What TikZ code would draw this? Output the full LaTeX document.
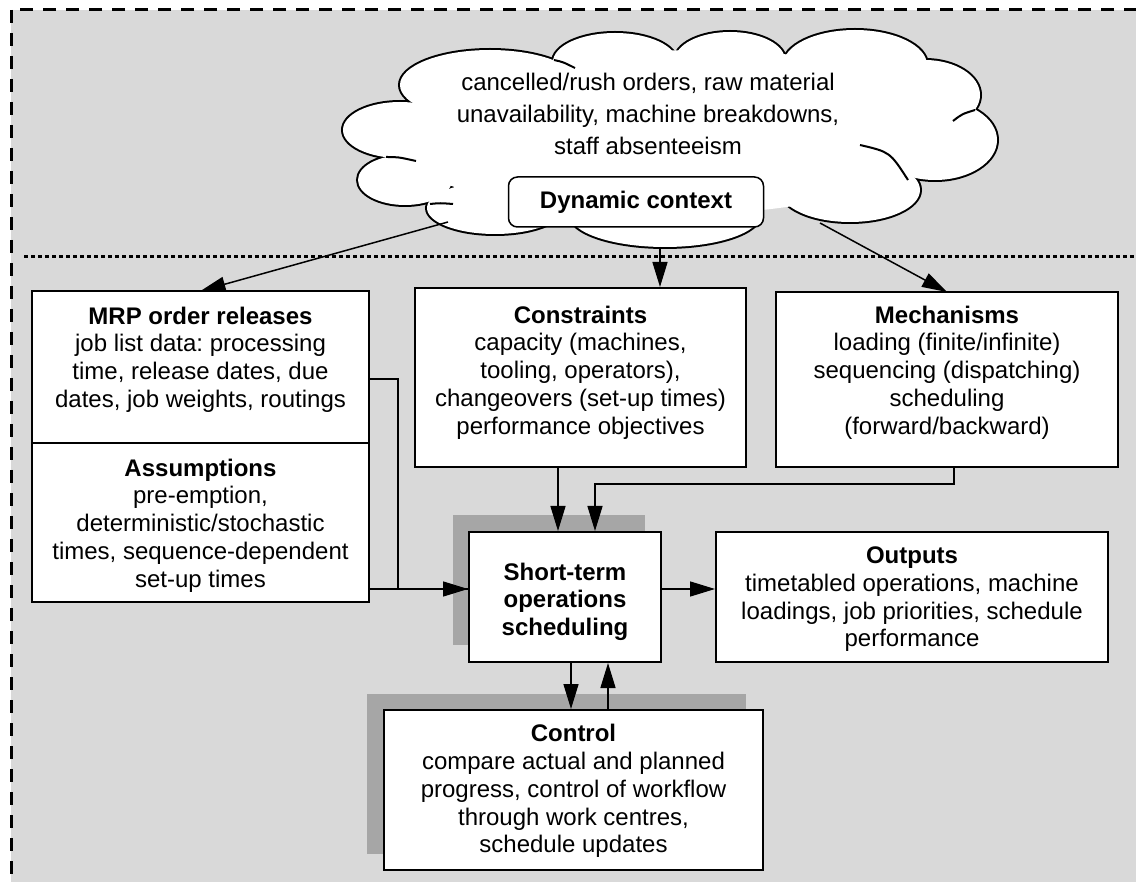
\documentclass[tikz,border=0pt]{standalone}
\usepackage{fontspec}
\setmainfont{Liberation Sans}
\usetikzlibrary{arrows.meta,shadows,calc}
\definecolor{panel}{HTML}{D9D9D9}
\definecolor{shade}{HTML}{A6A6A6}

\begin{document}
\frenchspacing
\begin{tikzpicture}[x=1pt,y=-1pt,
  box/.style={draw, fill=white, line width=2pt, inner sep=0pt},
  txt/.style={anchor=north, inner sep=0pt, align=center, font=\fontsize{24}{27.7}\selectfont},
  arr/.style={line width=1.5pt, -{Triangle[length=25pt,width=15pt]}},
  lin/.style={line width=1.5pt},
  crease/.style={line width=2pt},
  shd/.style={drop shadow={shadow xshift=-16pt, shadow yshift=17pt, fill=shade, opacity=1}}
]
\useasboundingbox (0,0) rectangle (1136,882);
% grey panel with dashed frame
\begin{scope}
  \clip (0,0) rectangle (1136,882);
  \draw[fill=panel, line width=3pt, dash pattern=on 13pt off 10pt] (11,10) rectangle (1150,883);
\end{scope}
% separator between context and scheduling system
\draw[line width=3pt, dash pattern=on 3.5pt off 3.5pt] (24,257) -- (1136,257);

% cloud: union of puffs, outline first, then white fill over the inner half of the strokes
\def\puffs{400/130/57/28, 405/180/47/25, 495/208/68/26, 665/215/95/32,
  850/190/70/32, 935/140/62/40, 925/95/55/35, 855/65/72/35,
  730/60/55/28, 615/62/62/29, 490/85/90/35}
\foreach \px/\py/\rx/\ry in \puffs
  \draw[line width=4pt] (\px,\py) ellipse [x radius=\rx pt, y radius=\ry pt];
\foreach \px/\py/\rx/\ry in \puffs
  \fill[white] (\px,\py) ellipse [x radius=\rx pt, y radius=\ry pt];
\fill[white] (665,140) ellipse [x radius=270pt, y radius=75pt];
\fill[white] (700,110) ellipse [x radius=230pt, y radius=60pt];
% creases between puffs
\draw[crease] (386,157) .. controls (398,157) .. (416,161);
\draw[crease] (430,204) .. controls (440,203) .. (453,204);
\draw[crease] (554,60) .. controls (563,62) .. (575,68);
\draw[crease] (953,121) .. controls (962,114) .. (975,110);
\draw[crease] (860,145) .. controls (890,152) .. (908,180);

\node[txt, font=\fontsize{24}{32}\selectfont] (cltxt) at (648,72.7)
  {cancelled/rush orders, raw material\\ unavailability, machine breakdowns,\\ staff absenteeism};
\node[draw, fill=white, line width=1.5pt, rounded corners=9pt, minimum width=255pt,
      minimum height=50pt, inner sep=0pt, font=\fontsize{24}{27.7}\selectfont\bfseries]
      (dyn) at (636,202) {Dynamic context};

% boxes
\node[box, minimum width=337pt, minimum height=152pt] (mrp) at (200.5,367) {};
\node[box, minimum width=337pt, minimum height=159pt] (asm) at (200.5,522.5) {};
\node[box, minimum width=331pt, minimum height=179pt] (con) at (580.5,377.5) {};
\node[box, minimum width=342pt, minimum height=175pt] (mec) at (947,379.5) {};
\node[box, shd, minimum width=192pt, minimum height=130pt] (sch) at (565,597) {};
\node[box, minimum width=392pt, minimum height=130pt] (out) at (912,597) {};
\node[box, minimum width=379pt, minimum height=160pt,
      drop shadow={shadow xshift=-17pt, shadow yshift=16pt, fill=shade, opacity=1}] (ctl) at (573.5,790) {};

% box texts
\node[txt] (mrptxt) at (200.5,306.7) {\textbf{MRP order releases}\\ job list data: processing\\ time, release dates, due\\ dates, job weights, routings};
\node[txt] (asmtxt) at (200.5,458.7) {\textbf{Assumptions}\\ pre-emption,\\ deterministic/stochastic\\ times, sequence-dependent\\ set-up times};
\node[txt] (context) at (580.5,305.7) {\textbf{Constraints}\\ capacity (machines,\\ tooling, operators),\\ changeovers (set-up times)\\ performance objectives};
\node[txt] (mectxt) at (947,305.7) {\textbf{Mechanisms}\\ loading (finite/infinite)\\ sequencing (dispatching)\\ scheduling\\ (forward/backward)};
\node[txt] (schtxt) at (565,562.7) {\textbf{Short-term}\\ \textbf{operations}\\ \textbf{scheduling}};
\node[txt] (outtxt) at (912,546.7) {\textbf{Outputs}\\ timetabled operations, machine\\ loadings, job priorities, schedule\\ performance};
\node[txt] (ctltxt) at (573.5,724.4) {\textbf{Control}\\ compare actual and planned\\ progress, control of workflow\\ through work centres,\\ schedule updates};

% connector end points
\coordinate (c1) at (448,222);
\coordinate (c2) at (660,247);
\coordinate (c3) at (820,223);
\coordinate (t1) at (325,291);
\coordinate (t3) at (917,292);
\coordinate (sin) at ([yshift=8pt]sch.west);
\coordinate (s1) at ([xshift=-7pt]sch.north);
\coordinate (s2) at ([xshift=30pt]sch.north);
\coordinate (m1) at ([xshift=7pt]mec.south);
\coordinate (d1) at ([xshift=6pt]sch.south);
\coordinate (u1) at ([xshift=43pt]sch.south);
\coordinate (r1) at ([yshift=-12pt]mrp.east);

% connectors
\draw[arr] (c1) -- (t1 -| mrp.north);
\draw[arr] (c2) -- (c2 |- con.north);
\draw[arr] (c3) -- (t3 -| mec.north);
\draw[arr] (s1 |- con.south) -- (s1);
\draw[arr] (m1) -- ++(0,16) -| (s2);
\draw[lin] (r1) -- ++(28,0) |- (sin);
\draw[arr] (sin -| asm.east) -- (sin);
\draw[arr] (sin -| sch.east) -- (sin -| out.west);
\draw[arr] (d1) -- (d1 |- ctl.north);
\draw[arr] (u1 |- ctl.north) -- (u1);
\end{tikzpicture}
\end{document}
